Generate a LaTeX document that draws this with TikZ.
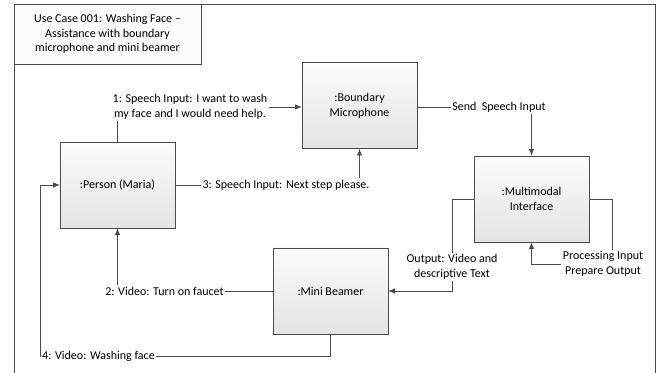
\documentclass[tikz,border=0pt]{standalone}
\usepackage{fontspec}
\setmainfont{Carlito}
\usetikzlibrary{arrows.meta, positioning, calc, shadows}
\definecolor{LineGray}{HTML}{4A4A4A}
\definecolor{BoxTop}{HTML}{FBFBFB}
\definecolor{BoxBottom}{HTML}{E4E4E4}

\tikzset{
  objbox/.style={draw=LineGray, top color=BoxTop, bottom color=BoxBottom,
    minimum width=86pt, minimum height=64.5pt, align=center, font=\fontsize{9pt}{11pt}\selectfont,
    drop shadow={shadow xshift=0.6pt, shadow yshift=-0.6pt, opacity=0.25}},
  msg/.style={inner sep=1pt, align=center, font=\fontsize{9pt}{11pt}\selectfont},
  conn/.style={draw=LineGray, line width=0.6pt},
  arr/.style={conn, -{Latex[length=5pt, width=4pt]}}
}

\begin{document}
\begin{tikzpicture}[x=0.75pt, y=-0.75pt]
  \useasboundingbox (0,0) rectangle (657,373);

  % frame and title
  \draw[LineGray, line width=0.6pt] (14,373) -- (14,4) -- (655,4) -- (655,373);
  \node[draw=LineGray, fill=BoxTop, minimum width=140.25pt, minimum height=45pt, inner sep=0pt,
        align=center, font=\fontsize{9pt}{11pt}\selectfont] (title) at (107.5,34)
        {Use Case 001: Washing Face --\\Assistance with boundary\\microphone and mini beamer};

  % objects
  \node[objbox] (person) at (117.5,185) {:Person (Maria)};
  \node[objbox] (mic) at (359.5,105.5) {:Boundary\\Microphone};
  \node[objbox] (mmi) at (531.5,199) {:Multimodal\\Interface};
  \node[objbox] (beamer) at (330.5,291) {:Mini Beamer};

  % messages
  \node[msg] (m1) at (190,107) {1: Speech Input: I want to wash\\my face and I would need help.};
  \node[msg] (m3) at (286,185) {3: Speech Input: Next step please.};
  \node[msg] (send) at (499,107) {Send\ \ Speech Input};
  \node[msg] (out) at (452,267) {Output: Video and\\descriptive Text};
  \node[msg] (proc) at (603,264) {Processing Input\\Prepare Output};
  \node[msg] (m2) at (164.5,291) {2: Video: Turn on faucet};
  \node[msg] (m4) at (98.5,356) {4: Video: Washing face};

  \coordinate (loopR) at (612,199);
  \coordinate (loopL) at (40,185);

  % 1: person -> microphone
  \draw[conn] (person.north) -- (person.north |- m1.south);
  \draw[arr] (m1.east) -- (m1.east -| mic.west);
  % 3: person -> microphone
  \draw[conn] (person.east) -- (m3.west);
  \draw[arr] (m3.north -| mic.south) -- (mic.south);
  % microphone -> interface
  \draw[conn] (mic.east |- send.west) -- (send.west);
  \draw[arr] (send.south -| mmi.north) -- (mmi.north);
  % interface -> beamer
  \draw[conn] (mmi.west) -| (out.north);
  \draw[arr] (out.south) |- (beamer.east);
  % interface self loop
  \draw[conn] (mmi.east) -- (loopR) -- (loopR |- proc.north);
  \draw[arr] (proc.west) -| (mmi.south);
  % 2: beamer -> person
  \draw[conn] (beamer.west) -- (m2.east);
  \draw[arr] (m2.north -| person.south) -- (person.south);
  % 4: beamer -> person
  \draw[conn] (beamer.south) |- (m4.east);
  \draw[arr] (m4.west) -| (loopL) -- (person.west);
\end{tikzpicture}
\end{document}
